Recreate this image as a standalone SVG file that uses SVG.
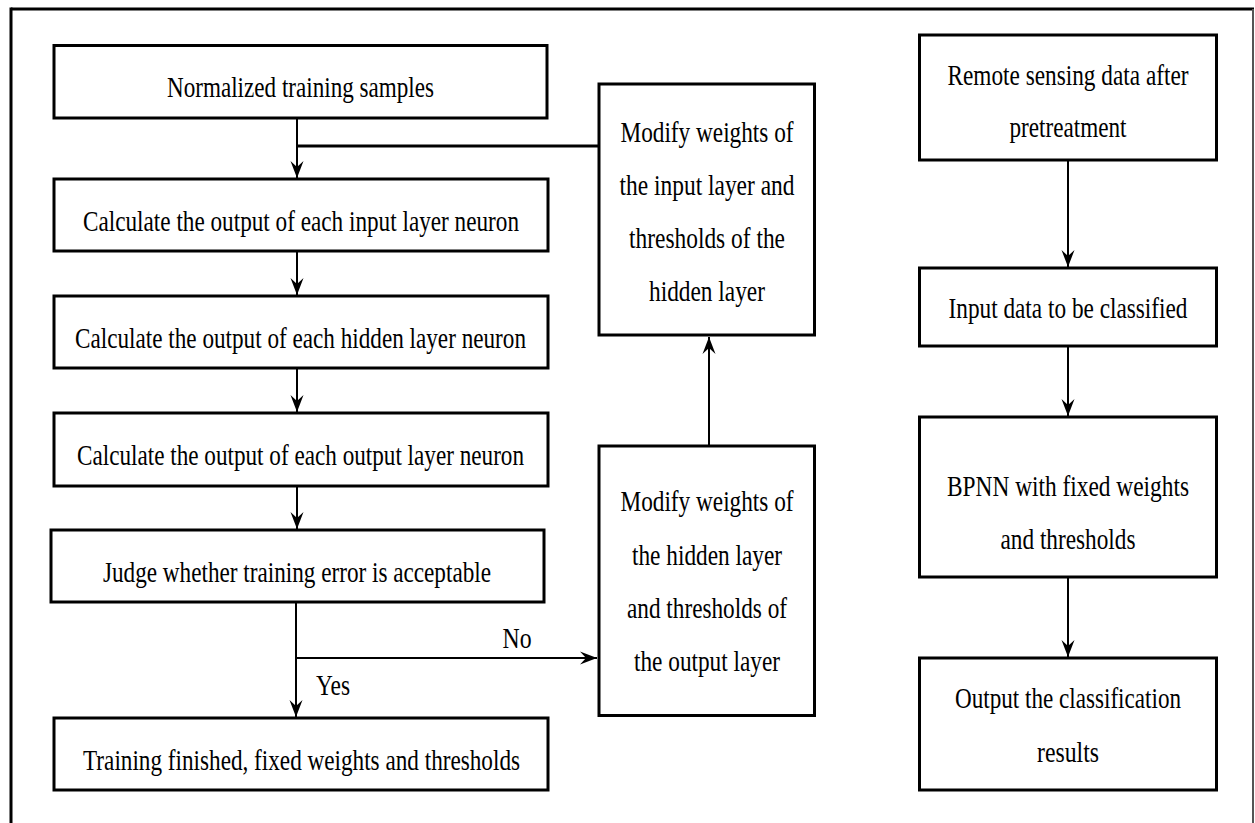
<svg xmlns="http://www.w3.org/2000/svg" width="1255" height="823" viewBox="0 0 1255 823">
  <style>
    .box { fill: #ffffff; stroke: #000000; stroke-width: 3; }
    .lbl { font-family: "Liberation Serif", "Times New Roman", serif; font-size: 30px; fill: #000000; text-anchor: middle; }
    .wire { fill: none; stroke: #000000; stroke-width: 2; }
    .wire-bold { fill: none; stroke: #000000; stroke-width: 3; }
  </style>
  <defs>
    <marker id="arrow" markerUnits="userSpaceOnUse" markerWidth="18" markerHeight="16" refX="17" refY="8" orient="auto">
      <path d="M0,1.5 L17,8 L0,14.5 L6,8 Z" fill="#000000"/>
    </marker>
  </defs>

  <rect x="0" y="0" width="1255" height="823" fill="#ffffff"/>

  <!-- outer frame -->
  <g id="frame">
    <line x1="11" y1="9" x2="1254" y2="9" stroke="#000000" stroke-width="3"/>
    <line x1="11" y1="7.5" x2="11" y2="830" stroke="#000000" stroke-width="3"/>
    <line x1="1253" y1="9" x2="1253" y2="830" stroke="#555555" stroke-width="2"/>
  </g>

  <!-- connectors; labels use a condensed serif (x scaled by 0.77) -->
  <g id="connectors">
    <line class="wire" x1="297" y1="119" x2="297" y2="178" marker-end="url(#arrow)"/>
    <line class="wire-bold" x1="598" y1="146" x2="296" y2="146"/>
    <line class="wire" x1="297" y1="252" x2="297" y2="295" marker-end="url(#arrow)"/>
    <line class="wire" x1="297" y1="369" x2="297" y2="412" marker-end="url(#arrow)"/>
    <line class="wire" x1="297" y1="487" x2="297" y2="529" marker-end="url(#arrow)"/>
    <line class="wire" x1="296" y1="603" x2="296" y2="717" marker-end="url(#arrow)"/>
    <line class="wire" x1="296" y1="658" x2="597" y2="658" marker-end="url(#arrow)"/>
    <line class="wire" x1="709" y1="445" x2="709" y2="337" marker-end="url(#arrow)"/>
    <line class="wire" x1="1068" y1="161" x2="1068" y2="267" marker-end="url(#arrow)"/>
    <line class="wire" x1="1068" y1="347" x2="1068" y2="416" marker-end="url(#arrow)"/>
    <line class="wire" x1="1068" y1="578" x2="1068" y2="657" marker-end="url(#arrow)"/>
    <text class="lbl" transform="translate(517 648) scale(0.77 1)" textLength="37.7" lengthAdjust="spacingAndGlyphs">No</text>
    <text class="lbl" transform="translate(333 695) scale(0.77 1)" textLength="44.2" lengthAdjust="spacingAndGlyphs">Yes</text>
  </g>

  <g id="n-normalized">
    <rect class="box" x="54" y="45.5" width="493" height="72.5"/>
    <text class="lbl" transform="translate(300.5 97) scale(0.77 1)" textLength="346.8" lengthAdjust="spacingAndGlyphs">Normalized training samples</text>
  </g>

  <g id="n-input-out">
    <rect class="box" x="54" y="179" width="494" height="72"/>
    <text class="lbl" transform="translate(301 231) scale(0.77 1)" textLength="566.2" lengthAdjust="spacingAndGlyphs">Calculate the output of each input layer neuron</text>
  </g>

  <g id="n-hidden-out">
    <rect class="box" x="54" y="296" width="494" height="72"/>
    <text class="lbl" transform="translate(300.5 348) scale(0.77 1)" textLength="585.7" lengthAdjust="spacingAndGlyphs">Calculate the output of each hidden layer neuron</text>
  </g>

  <g id="n-output-out">
    <rect class="box" x="54" y="413" width="494" height="73"/>
    <text class="lbl" transform="translate(300.5 465) scale(0.77 1)" textLength="580.5" lengthAdjust="spacingAndGlyphs">Calculate the output of each output layer neuron</text>
  </g>

  <g id="n-judge">
    <rect class="box" x="51" y="530" width="493" height="72"/>
    <text class="lbl" transform="translate(297 582) scale(0.77 1)" textLength="503.9" lengthAdjust="spacingAndGlyphs">Judge whether training error is acceptable</text>
  </g>

  <g id="n-finished">
    <rect class="box" x="54" y="718" width="494" height="72"/>
    <text class="lbl" transform="translate(301.5 770) scale(0.77 1)" textLength="567.5" lengthAdjust="spacingAndGlyphs">Training finished, fixed weights and thresholds</text>
  </g>

  <g id="n-modify-input">
    <rect class="box" x="599" y="84" width="215.5" height="251"/>
    <text class="lbl" transform="translate(707 142) scale(0.77 1)" textLength="224.7" lengthAdjust="spacingAndGlyphs">Modify weights of</text>
    <text class="lbl" transform="translate(707 195) scale(0.77 1)" textLength="227.3" lengthAdjust="spacingAndGlyphs">the input layer and</text>
    <text class="lbl" transform="translate(707 248) scale(0.77 1)" textLength="202.6" lengthAdjust="spacingAndGlyphs">thresholds of the</text>
    <text class="lbl" transform="translate(707 301) scale(0.77 1)" textLength="150.6" lengthAdjust="spacingAndGlyphs">hidden layer</text>
  </g>

  <g id="n-modify-hidden">
    <rect class="box" x="599" y="446" width="215.5" height="269.5"/>
    <text class="lbl" transform="translate(707 511) scale(0.77 1)" textLength="224.7" lengthAdjust="spacingAndGlyphs">Modify weights of</text>
    <text class="lbl" transform="translate(707 565) scale(0.77 1)" textLength="194.8" lengthAdjust="spacingAndGlyphs">the hidden layer</text>
    <text class="lbl" transform="translate(707 618) scale(0.77 1)" textLength="207.8" lengthAdjust="spacingAndGlyphs">and thresholds of</text>
    <text class="lbl" transform="translate(707 671) scale(0.77 1)" textLength="189.6" lengthAdjust="spacingAndGlyphs">the output layer</text>
  </g>

  <g id="n-remote">
    <rect class="box" x="919.5" y="35" width="297" height="125"/>
    <text class="lbl" transform="translate(1068 85) scale(0.77 1)" textLength="313" lengthAdjust="spacingAndGlyphs">Remote sensing data after</text>
    <text class="lbl" transform="translate(1068 137) scale(0.77 1)" textLength="152" lengthAdjust="spacingAndGlyphs">pretreatment</text>
  </g>

  <g id="n-input-data">
    <rect class="box" x="919.5" y="268" width="297" height="78"/>
    <text class="lbl" transform="translate(1068 318) scale(0.77 1)" textLength="310.4" lengthAdjust="spacingAndGlyphs">Input data to be classified</text>
  </g>

  <g id="n-bpnn">
    <rect class="box" x="919.5" y="417" width="297" height="160"/>
    <text class="lbl" transform="translate(1068 496) scale(0.77 1)" textLength="314.3" lengthAdjust="spacingAndGlyphs">BPNN with fixed weights</text>
    <text class="lbl" transform="translate(1068 549) scale(0.77 1)" textLength="175.3" lengthAdjust="spacingAndGlyphs">and thresholds</text>
  </g>

  <g id="n-output-results">
    <rect class="box" x="919.5" y="658" width="297" height="132"/>
    <text class="lbl" transform="translate(1068 708) scale(0.77 1)" textLength="293.5" lengthAdjust="spacingAndGlyphs">Output the classification</text>
    <text class="lbl" transform="translate(1068 762) scale(0.77 1)" textLength="80.5" lengthAdjust="spacingAndGlyphs">results</text>
  </g>
</svg>
